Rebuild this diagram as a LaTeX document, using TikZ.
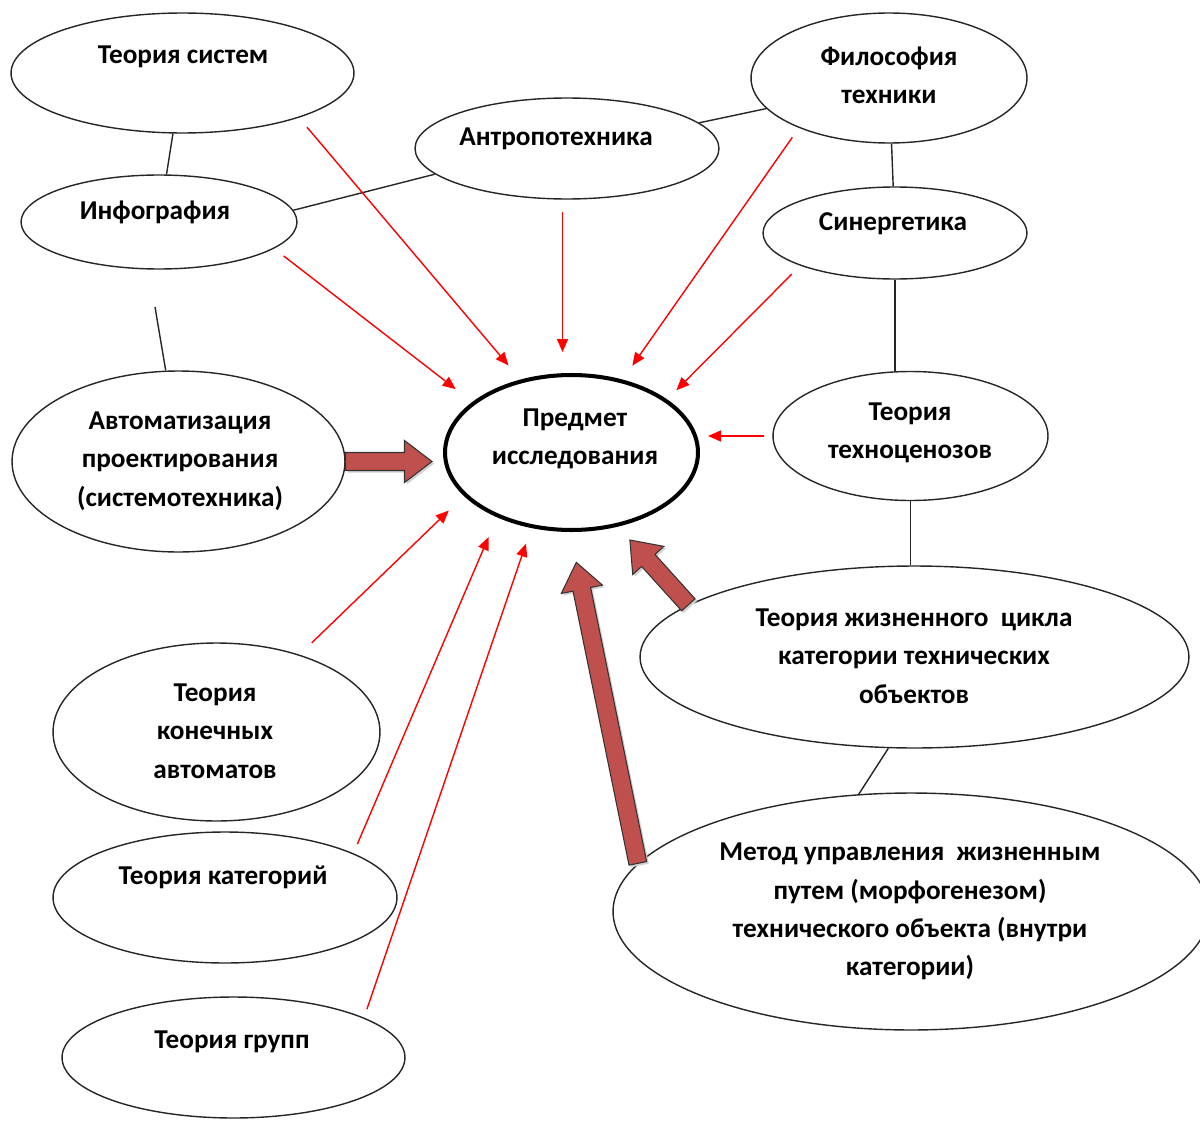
\documentclass[tikz,border=0pt]{standalone}
\usepackage{fontspec}
\setmainfont{Carlito}
\usepackage{tikz}
\usetikzlibrary{shapes.geometric,calc,arrows.meta}

\definecolor{fatred}{HTML}{C0504D}

% block arrow: #1 from, #2 to, #3 gap at start, #4 gap at tip
\newcommand{\fatarrow}[4]{%
  \coordinate (fa-a) at ($#1!#3!#2$);
  \coordinate (fa-b) at ($#2!#4!#1$);
  \coordinate (fa-c) at ($(fa-b)!0.55cm!(fa-a)$);
  \filldraw[fatarr] ($(fa-a)!0.18cm!90:(fa-b)$) -- ($(fa-c)!0.18cm!90:(fa-b)$)
    -- ($(fa-c)!0.42cm!90:(fa-b)$) -- (fa-b) -- ($(fa-c)!0.42cm!-90:(fa-b)$)
    -- ($(fa-c)!0.18cm!-90:(fa-b)$) -- ($(fa-a)!0.18cm!-90:(fa-b)$) -- cycle;}

\begin{document}
\begin{tikzpicture}[x=0.02cm, y=-0.02cm,
    ell/.style={ellipse, draw=black!85, line width=0.8pt, inner sep=0pt},
    txt/.style={font=\bfseries\fontsize{15.5}{21.8}\selectfont, align=center, inner sep=0pt},
    link/.style={draw=black!85, line width=0.8pt},
    redarr/.style={draw=red, line width=0.8pt, -{Triangle[length=0.26cm,width=0.22cm]}},
    fatarr/.style={fill=fatred, draw=black!80, line width=0.6pt, line join=miter,
      preaction={fill=black!18, transform canvas={xshift=1.2pt, yshift=-1.2pt}}}]
  \useasboundingbox (0,0) rectangle (1200,1122);
  \clip (0,0) rectangle (1200,1122);

  % ellipses
  \node[ell, minimum width=6.86cm, minimum height=2.40cm] (sys) at (182.5,73) {};
  \node[ell, minimum width=5.52cm, minimum height=2.60cm] (phil) at (889,78) {};
  \node[ell, minimum width=6.08cm, minimum height=2.02cm] (anthro) at (567,148.5) {};
  \node[ell, minimum width=5.52cm, minimum height=1.88cm] (info) at (159,222) {};
  \node[ell, minimum width=5.28cm, minimum height=1.84cm] (syn) at (895,233) {};
  \node[ell, line width=2.3pt, draw=black, minimum width=5.06cm, minimum height=3.10cm] (subj) at (571.5,452.5) {};
  \node[ell, minimum width=6.66cm, minimum height=3.62cm] (auto) at (178.5,461.5) {};
  \node[ell, minimum width=5.50cm, minimum height=2.58cm] (tech) at (910.5,436) {};
  \node[ell, minimum width=10.98cm, minimum height=3.64cm] (life) at (914.5,657) {};
  \node[ell, minimum width=6.54cm, minimum height=3.56cm] (fsm) at (216.5,732) {};
  \node[ell, minimum width=6.88cm, minimum height=2.62cm] (cat) at (225,897.5) {};
  \node[ell, minimum width=11.92cm, minimum height=4.74cm] (method) at (911,911.5) {};
  \node[ell, minimum width=6.86cm, minimum height=2.42cm] (grp) at (233.5,1057.5) {};

  % texts
  \node[txt] (sys-t) at (183,57) {Теория систем};
  \node[txt] (phil-t) at (889,75.5) {Философия\\техники};
  \node[txt] (anthro-t) at (556,139) {Антропотехника};
  \node[txt] (info-t) at (155,212) {Инфография};
  \node[txt] (syn-t) at (893,224) {Синергетика};
  \node[txt] (subj-t) at (575,439) {Предмет\\исследования};
  \node[txt] (auto-t) at (180,461) {Автоматизация\\проектирования\\(системотехника)};
  \node[txt] (tech-t) at (910,433) {Теория\\техноценозов};
  \node[txt] (life-t) at (914,656) {Теория жизненного~ цикла\\категории технических\\объектов};
  \node[txt] (fsm-t) at (215,731) {Теория\\конечных\\автоматов};
  \node[txt] (cat-t) at (223,877) {Теория категорий};
  \node[txt] (method-t) at (910,911.5) {Метод управления~ жизненным\\путем (морфогенезом)\\технического объекта (внутри\\категории)};
  \node[txt] (grp-t) at (232,1042) {Теория групп};

  % plain links
  \coordinate (loose) at (155,307);
  \draw[link] (sys) -- (info);
  \draw[link] (info.5) -- (anthro.191);
  \draw[link] (anthro.11) -- (phil.194);
  \draw[link] (phil) -- (syn);
  \draw[link] (syn.south) -- (syn.south |- tech.north);
  \draw[link] (tech.south) -- (tech.south |- life.north);
  \draw[link] (life.254) -- (method.114);
  \draw[link] (loose) -- (auto.98);

  % thin red arrows
  \draw[redarr, shorten <=0.25cm, shorten >=0.37cm] (sys.-21) -- (subj.125.5);
  \draw[redarr, shorten <=0.24cm, shorten >=0.42cm] (info.-13.6) -- (subj.153.3);
  \draw[redarr, shorten <=0.24cm, shorten >=0.42cm] (anthro.265) -- (anthro.265 |- subj.north);
  \draw[redarr, shorten <=0.23cm, shorten >=0.34cm] (phil.-151.2) -- (subj.55.8);
  \draw[redarr, shorten <=0.24cm, shorten >=0.26cm] (syn.-161.2) -- (subj.29.2);
  \draw[redarr, shorten <=0.16cm, shorten >=0.16cm] (tech.west) -- (tech.west -| subj.east);
  \draw[redarr, shorten <=0.34cm, shorten >=0.42cm] (fsm.43.3) -- (subj.202.2);
  \draw[redarr, shorten <=0.2cm, shorten >=0.43cm] (cat.19.5) -- (subj.221.6);
  \draw[redarr, shorten <=0.18cm, shorten >=0.33cm] (grp.17) -- (subj.242.8);

  % block arrows
  \fatarrow{(auto.east)}{(auto.east -| subj.west)}{0cm}{0.22cm}
  \fatarrow{(method.170)}{(subj.269)}{0cm}{0.62cm}
  \fatarrow{(life.167)}{(subj.-58.2)}{0cm}{0.36cm}
\end{tikzpicture}
\end{document}
